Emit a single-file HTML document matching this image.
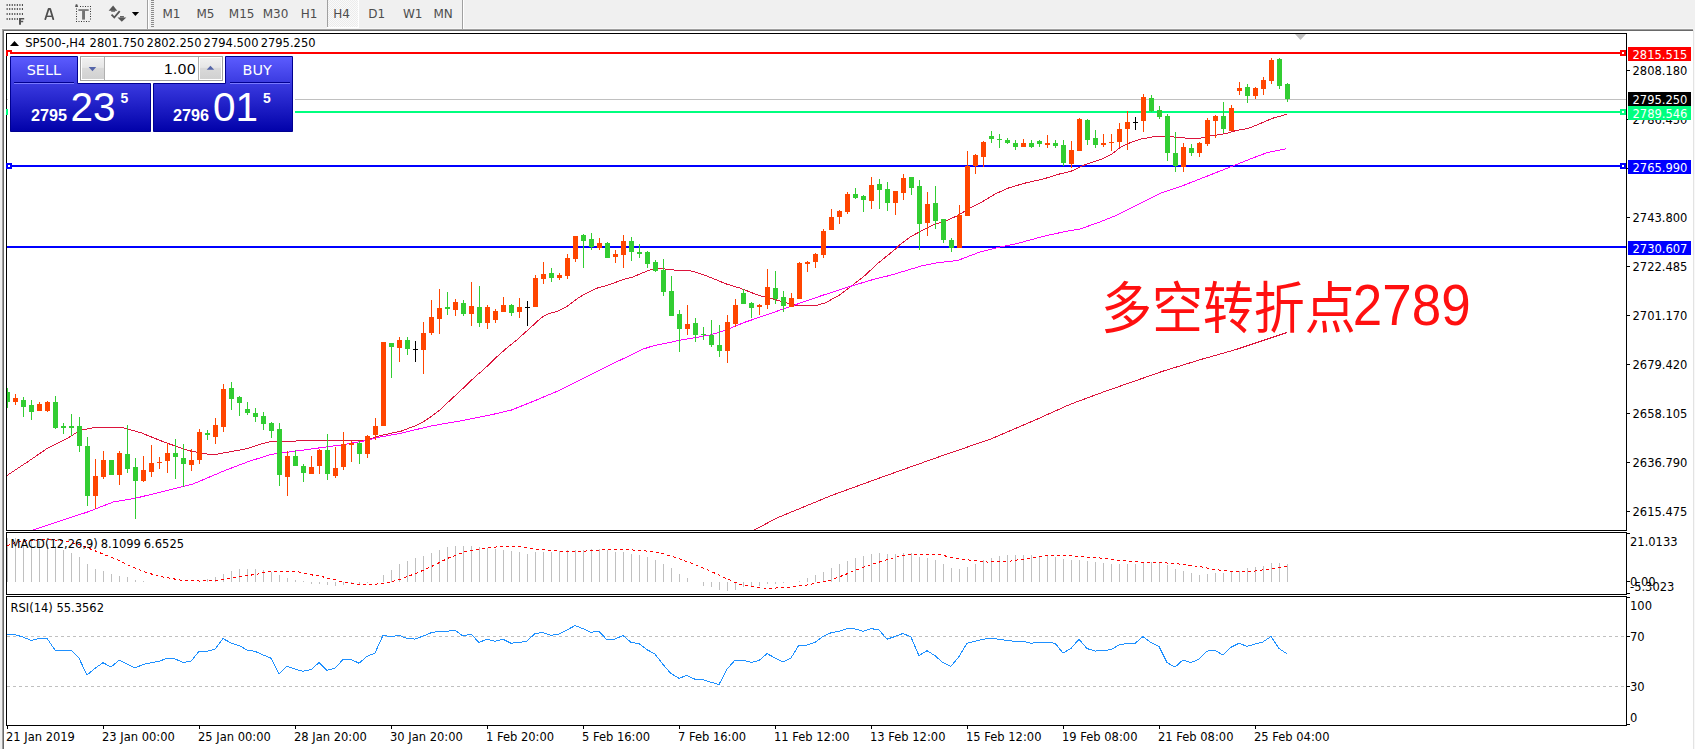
<!DOCTYPE html>
<html><head><meta charset="utf-8"><title>SP500 H4</title>
<style>
html,body{margin:0;padding:0;width:1695px;height:749px;overflow:hidden;background:#f0f0f0;}
#chart{position:absolute;left:0;top:0;}
.tb{position:absolute;font-family:"DejaVu Sans",sans-serif;font-size:11px;color:#4a4a4a;top:8px;}
</style></head><body>
<svg id="chart" width="1695" height="749" viewBox="0 0 1695 749">
<rect x="0" y="0" width="1695" height="749" fill="#f0f0f0" />
<rect x="2" y="29" width="1691" height="1" fill="#a0a0a0" />
<rect x="3" y="30" width="1690" height="1" fill="#696969" />
<rect x="2" y="29" width="1" height="720" fill="#a0a0a0" />
<rect x="3" y="30" width="1" height="719" fill="#696969" />
<rect x="4" y="31" width="1689" height="718" fill="#ffffff" />
<rect x="1693" y="30" width="1" height="719" fill="#e3e3e3" />
<rect x="1694" y="30" width="1" height="719" fill="#f8f8f8" />
<defs><clipPath id="cm"><rect x="7" y="34" width="1619" height="496"/></clipPath><clipPath id="cd"><rect x="7" y="533" width="1619" height="61"/></clipPath><clipPath id="cr"><rect x="7" y="597" width="1619" height="128"/></clipPath></defs>
<g clip-path="url(#cm)" shape-rendering="crispEdges">
<rect x="7" y="99" width="1619" height="1" fill="#c0c0c0" />
<rect x="7" y="52" width="1619" height="2" fill="#ff0000" />
<rect x="7" y="111" width="1619" height="2" fill="#00ff7f" />
<rect x="7" y="165" width="1619" height="2" fill="#0000ff" />
<rect x="7" y="246" width="1619" height="2" fill="#0000ff" />
</g>
<g clip-path="url(#cm)">
<polyline points="7.0,475.5 28.3,461.4 47.2,448.4 68.4,437.8 80.2,430.2 94.4,427.6 122.7,427.6 141.6,433.0 165.2,442.5 188.8,450.7 212.4,455.0 236.0,450.7 247.8,448.4 259.6,444.4 271.4,441.5 316.2,440.6 346.9,440.6 365.8,440.1 382.3,435.1 400.7,431.3 416.0,425.5 425.3,420.6 431.4,416.3 439.1,410.6 451.4,399.1 460.6,390.6 475.9,376.0 483.6,369.6 498.9,354.9 508.1,346.9 517.4,339.5 520.0,337.0 529.4,328.7 538.9,319.9 543.6,316.1 548.3,314.0 557.8,311.0 567.2,306.3 571.9,302.8 579.0,297.5 586.1,293.3 597.9,287.8 607.3,285.4 616.8,281.9 626.2,278.6 632.1,277.4 642.7,272.7 649.8,270.1 659.2,268.6 667.5,269.2 676.9,270.3 688.7,270.3 699.3,273.3 708.8,276.8 726.7,284.1 740.0,288.1 758.7,295.4 772.1,298.7 788.1,303.4 796.1,305.2 816.2,305.4 825.5,302.8 838.9,295.4 852.2,285.4 865.6,275.0 876.2,264.7 886.9,256.0 896.3,248.3 899.6,244.9 910.8,236.6 922.0,230.5 933.3,224.9 947.7,220.1 957.3,215.8 970.1,208.1 983.0,201.3 995.8,193.7 1008.6,188.0 1024.6,183.2 1043.8,178.9 1056.7,174.7 1071.1,171.2 1085.6,164.5 1102.4,158.9 1111.8,154.2 1121.1,146.7 1130.5,142.6 1141.7,138.9 1154.8,136.6 1167.9,136.4 1177.2,137.4 1188.4,138.3 1199.6,138.3 1210.8,135.9 1225.8,133.6 1237.0,130.3 1248.2,128.4 1259.4,123.9 1272.5,118.3 1286.5,114.4" fill="none" stroke="#dc143c" stroke-width="1" shape-rendering="crispEdges"/>
<polyline points="33.0,530.0 35.4,529.3 61.4,520.4 87.3,512.1 113.3,502.0 136.9,497.9 165.2,490.9 193.5,483.8 224.2,470.8 247.8,461.8 271.4,454.3 306.8,449.6 342.2,444.8 365.8,440.6 380.0,437.0 400.0,433.5 431.4,425.9 462.1,420.6 492.8,414.4 511.2,410.1 523.5,405.2 537.5,399.6 557.8,391.0 583.4,378.2 610.1,364.9 628.3,356.3 642.2,349.4 653.9,345.6 668.9,342.6 681.7,339.8 695.6,337.6 710.0,335.0 724.0,330.8 744.1,322.5 766.8,314.8 793.5,305.4 820.2,296.1 846.9,287.4 873.6,279.4 890.0,275.4 906.0,270.6 922.0,265.8 938.1,262.6 957.3,260.6 979.7,252.1 999.0,247.3 1018.2,243.3 1042.2,236.6 1066.3,231.3 1080.0,229.0 1098.7,222.4 1117.4,215.0 1136.1,205.6 1162.2,192.5 1180.9,186.4 1203.4,177.6 1229.5,167.3 1248.2,159.8 1266.9,152.7 1286.5,148.6" fill="none" stroke="#ff00ff" stroke-width="1" shape-rendering="crispEdges"/>
<polyline points="752.0,530.5 754.9,529.8 776.3,518.2 832.5,495.1 885.4,475.9 938.2,457.1 991.1,438.9 1037.3,419.1 1070.4,404.2 1103.4,392.0 1162.9,371.2 1202.5,359.0 1235.5,349.7 1286.7,332.6" fill="none" stroke="#dc143c" stroke-width="1" shape-rendering="crispEdges"/>
</g>
<g clip-path="url(#cm)" shape-rendering="crispEdges">
<rect x="7" y="388" width="1" height="20" fill="#32cd32" />
<rect x="5" y="392" width="5" height="10" fill="#32cd32" />
<rect x="15" y="394" width="1" height="11" fill="#ff4500" />
<rect x="13" y="398" width="5" height="4" fill="#ff4500" />
<rect x="23" y="397" width="1" height="20" fill="#32cd32" />
<rect x="21" y="400" width="5" height="7" fill="#32cd32" />
<rect x="31" y="400" width="1" height="20" fill="#32cd32" />
<rect x="29" y="405" width="5" height="7" fill="#32cd32" />
<rect x="39" y="402" width="1" height="9" fill="#ff4500" />
<rect x="37" y="404" width="5" height="7" fill="#ff4500" />
<rect x="47" y="401" width="1" height="11" fill="#ff4500" />
<rect x="45" y="402" width="5" height="9" fill="#ff4500" />
<rect x="55" y="396" width="1" height="33" fill="#32cd32" />
<rect x="53" y="402" width="5" height="26" fill="#32cd32" />
<rect x="63" y="423" width="1" height="11" fill="#32cd32" />
<rect x="61" y="426" width="5" height="2" fill="#32cd32" />
<rect x="71" y="414" width="1" height="22" fill="#32cd32" />
<rect x="69" y="426" width="5" height="2" fill="#32cd32" />
<rect x="79" y="417" width="1" height="35" fill="#32cd32" />
<rect x="77" y="426" width="5" height="20" fill="#32cd32" />
<rect x="87" y="437" width="1" height="69" fill="#32cd32" />
<rect x="85" y="446" width="5" height="50" fill="#32cd32" />
<rect x="95" y="459" width="1" height="50" fill="#ff4500" />
<rect x="93" y="476" width="5" height="20" fill="#ff4500" />
<rect x="103" y="451" width="1" height="28" fill="#ff4500" />
<rect x="101" y="460" width="5" height="17" fill="#ff4500" />
<rect x="111" y="460" width="1" height="15" fill="#32cd32" />
<rect x="109" y="460" width="5" height="15" fill="#32cd32" />
<rect x="119" y="451" width="1" height="34" fill="#ff4500" />
<rect x="117" y="453" width="5" height="22" fill="#ff4500" />
<rect x="127" y="425" width="1" height="48" fill="#32cd32" />
<rect x="125" y="454" width="5" height="15" fill="#32cd32" />
<rect x="135" y="458" width="1" height="61" fill="#32cd32" />
<rect x="133" y="467" width="5" height="14" fill="#32cd32" />
<rect x="143" y="456" width="1" height="26" fill="#ff4500" />
<rect x="141" y="470" width="5" height="11" fill="#ff4500" />
<rect x="151" y="445" width="1" height="32" fill="#ff4500" />
<rect x="149" y="463" width="5" height="9" fill="#ff4500" />
<rect x="159" y="457" width="1" height="12" fill="#ff4500" />
<rect x="157" y="462" width="5" height="1" fill="#ff4500" />
<rect x="167" y="443" width="1" height="30" fill="#ff4500" />
<rect x="165" y="453" width="5" height="8" fill="#ff4500" />
<rect x="175" y="439" width="1" height="40" fill="#32cd32" />
<rect x="173" y="453" width="5" height="4" fill="#32cd32" />
<rect x="183" y="444" width="1" height="43" fill="#32cd32" />
<rect x="181" y="458" width="5" height="6" fill="#32cd32" />
<rect x="191" y="449" width="1" height="22" fill="#ff4500" />
<rect x="189" y="460" width="5" height="5" fill="#ff4500" />
<rect x="199" y="429" width="1" height="35" fill="#ff4500" />
<rect x="197" y="432" width="5" height="28" fill="#ff4500" />
<rect x="207" y="430" width="1" height="10" fill="#32cd32" />
<rect x="205" y="433" width="5" height="2" fill="#32cd32" />
<rect x="215" y="418" width="1" height="26" fill="#ff4500" />
<rect x="213" y="425" width="5" height="12" fill="#ff4500" />
<rect x="223" y="384" width="1" height="48" fill="#ff4500" />
<rect x="221" y="389" width="5" height="38" fill="#ff4500" />
<rect x="231" y="382" width="1" height="28" fill="#32cd32" />
<rect x="229" y="388" width="5" height="11" fill="#32cd32" />
<rect x="239" y="396" width="1" height="20" fill="#32cd32" />
<rect x="237" y="397" width="5" height="6" fill="#32cd32" />
<rect x="247" y="402" width="1" height="13" fill="#32cd32" />
<rect x="245" y="409" width="5" height="4" fill="#32cd32" />
<rect x="255" y="408" width="1" height="14" fill="#32cd32" />
<rect x="253" y="413" width="5" height="4" fill="#32cd32" />
<rect x="263" y="412" width="1" height="18" fill="#32cd32" />
<rect x="261" y="416" width="5" height="8" fill="#32cd32" />
<rect x="271" y="422" width="1" height="16" fill="#32cd32" />
<rect x="269" y="423" width="5" height="8" fill="#32cd32" />
<rect x="279" y="423" width="1" height="63" fill="#32cd32" />
<rect x="277" y="429" width="5" height="46" fill="#32cd32" />
<rect x="287" y="451" width="1" height="45" fill="#ff4500" />
<rect x="285" y="456" width="5" height="21" fill="#ff4500" />
<rect x="295" y="450" width="1" height="16" fill="#32cd32" />
<rect x="293" y="456" width="5" height="10" fill="#32cd32" />
<rect x="303" y="464" width="1" height="18" fill="#32cd32" />
<rect x="301" y="466" width="5" height="7" fill="#32cd32" />
<rect x="311" y="456" width="1" height="18" fill="#ff4500" />
<rect x="309" y="467" width="5" height="7" fill="#ff4500" />
<rect x="319" y="449" width="1" height="25" fill="#ff4500" />
<rect x="317" y="450" width="5" height="16" fill="#ff4500" />
<rect x="327" y="434" width="1" height="46" fill="#32cd32" />
<rect x="325" y="450" width="5" height="24" fill="#32cd32" />
<rect x="335" y="447" width="1" height="31" fill="#ff4500" />
<rect x="333" y="468" width="5" height="8" fill="#ff4500" />
<rect x="343" y="432" width="1" height="38" fill="#ff4500" />
<rect x="341" y="444" width="5" height="23" fill="#ff4500" />
<rect x="351" y="441" width="1" height="21" fill="#ff4500" />
<rect x="349" y="443" width="5" height="2" fill="#ff4500" />
<rect x="359" y="441" width="1" height="23" fill="#32cd32" />
<rect x="357" y="443" width="5" height="11" fill="#32cd32" />
<rect x="367" y="435" width="1" height="23" fill="#ff4500" />
<rect x="365" y="436" width="5" height="18" fill="#ff4500" />
<rect x="375" y="418" width="1" height="22" fill="#ff4500" />
<rect x="373" y="426" width="5" height="9" fill="#ff4500" />
<rect x="383" y="342" width="1" height="84" fill="#ff4500" />
<rect x="381" y="342" width="5" height="84" fill="#ff4500" />
<rect x="391" y="343" width="1" height="35" fill="#32cd32" />
<rect x="389" y="343" width="5" height="4" fill="#32cd32" />
<rect x="399" y="337" width="1" height="25" fill="#ff4500" />
<rect x="397" y="340" width="5" height="8" fill="#ff4500" />
<rect x="407" y="337" width="1" height="18" fill="#32cd32" />
<rect x="405" y="340" width="5" height="9" fill="#32cd32" />
<rect x="415" y="341" width="1" height="21" fill="#000000" />
<rect x="413" y="349" width="5" height="1" fill="#000000" />
<rect x="423" y="322" width="1" height="52" fill="#ff4500" />
<rect x="421" y="333" width="5" height="17" fill="#ff4500" />
<rect x="431" y="300" width="1" height="35" fill="#ff4500" />
<rect x="429" y="317" width="5" height="16" fill="#ff4500" />
<rect x="439" y="289" width="1" height="45" fill="#ff4500" />
<rect x="437" y="308" width="5" height="11" fill="#ff4500" />
<rect x="447" y="292" width="1" height="23" fill="#32cd32" />
<rect x="445" y="307" width="5" height="2" fill="#32cd32" />
<rect x="455" y="299" width="1" height="17" fill="#ff4500" />
<rect x="453" y="302" width="5" height="8" fill="#ff4500" />
<rect x="463" y="300" width="1" height="16" fill="#32cd32" />
<rect x="461" y="303" width="5" height="11" fill="#32cd32" />
<rect x="471" y="282" width="1" height="44" fill="#ff4500" />
<rect x="469" y="306" width="5" height="8" fill="#ff4500" />
<rect x="479" y="286" width="1" height="41" fill="#32cd32" />
<rect x="477" y="307" width="5" height="16" fill="#32cd32" />
<rect x="487" y="305" width="1" height="24" fill="#ff4500" />
<rect x="485" y="307" width="5" height="16" fill="#ff4500" />
<rect x="495" y="309" width="1" height="14" fill="#ff4500" />
<rect x="493" y="311" width="5" height="9" fill="#ff4500" />
<rect x="503" y="297" width="1" height="15" fill="#ff4500" />
<rect x="501" y="305" width="5" height="7" fill="#ff4500" />
<rect x="511" y="304" width="1" height="12" fill="#32cd32" />
<rect x="509" y="305" width="5" height="8" fill="#32cd32" />
<rect x="519" y="298" width="1" height="20" fill="#ff4500" />
<rect x="517" y="307" width="5" height="5" fill="#ff4500" />
<rect x="527" y="301" width="1" height="25" fill="#000000" />
<rect x="525" y="307" width="5" height="1" fill="#000000" />
<rect x="535" y="275" width="1" height="32" fill="#ff4500" />
<rect x="533" y="278" width="5" height="29" fill="#ff4500" />
<rect x="543" y="262" width="1" height="22" fill="#ff4500" />
<rect x="541" y="274" width="5" height="5" fill="#ff4500" />
<rect x="551" y="268" width="1" height="14" fill="#32cd32" />
<rect x="549" y="273" width="5" height="5" fill="#32cd32" />
<rect x="559" y="273" width="1" height="7" fill="#ff4500" />
<rect x="557" y="275" width="5" height="3" fill="#ff4500" />
<rect x="567" y="254" width="1" height="25" fill="#ff4500" />
<rect x="565" y="258" width="5" height="18" fill="#ff4500" />
<rect x="575" y="236" width="1" height="26" fill="#ff4500" />
<rect x="573" y="236" width="5" height="23" fill="#ff4500" />
<rect x="583" y="234" width="1" height="34" fill="#32cd32" />
<rect x="581" y="235" width="5" height="6" fill="#32cd32" />
<rect x="591" y="233" width="1" height="17" fill="#32cd32" />
<rect x="589" y="239" width="5" height="8" fill="#32cd32" />
<rect x="599" y="238" width="1" height="12" fill="#ff4500" />
<rect x="597" y="243" width="5" height="5" fill="#ff4500" />
<rect x="607" y="242" width="1" height="16" fill="#32cd32" />
<rect x="605" y="243" width="5" height="15" fill="#32cd32" />
<rect x="615" y="250" width="1" height="13" fill="#ff4500" />
<rect x="613" y="254" width="5" height="3" fill="#ff4500" />
<rect x="623" y="235" width="1" height="33" fill="#ff4500" />
<rect x="621" y="241" width="5" height="14" fill="#ff4500" />
<rect x="631" y="237" width="1" height="24" fill="#32cd32" />
<rect x="629" y="241" width="5" height="11" fill="#32cd32" />
<rect x="639" y="244" width="1" height="14" fill="#32cd32" />
<rect x="637" y="252" width="5" height="2" fill="#32cd32" />
<rect x="647" y="251" width="1" height="17" fill="#32cd32" />
<rect x="645" y="252" width="5" height="12" fill="#32cd32" />
<rect x="655" y="260" width="1" height="12" fill="#32cd32" />
<rect x="653" y="262" width="5" height="9" fill="#32cd32" />
<rect x="663" y="259" width="1" height="37" fill="#32cd32" />
<rect x="661" y="270" width="5" height="22" fill="#32cd32" />
<rect x="671" y="276" width="1" height="40" fill="#32cd32" />
<rect x="669" y="291" width="5" height="25" fill="#32cd32" />
<rect x="679" y="310" width="1" height="42" fill="#32cd32" />
<rect x="677" y="314" width="5" height="15" fill="#32cd32" />
<rect x="687" y="305" width="1" height="30" fill="#ff4500" />
<rect x="685" y="324" width="5" height="5" fill="#ff4500" />
<rect x="695" y="318" width="1" height="24" fill="#32cd32" />
<rect x="693" y="323" width="5" height="12" fill="#32cd32" />
<rect x="703" y="327" width="1" height="13" fill="#32cd32" />
<rect x="701" y="334" width="5" height="1" fill="#32cd32" />
<rect x="711" y="320" width="1" height="27" fill="#32cd32" />
<rect x="709" y="335" width="5" height="10" fill="#32cd32" />
<rect x="719" y="325" width="1" height="32" fill="#32cd32" />
<rect x="717" y="345" width="5" height="6" fill="#32cd32" />
<rect x="727" y="315" width="1" height="48" fill="#ff4500" />
<rect x="725" y="322" width="5" height="29" fill="#ff4500" />
<rect x="735" y="299" width="1" height="28" fill="#ff4500" />
<rect x="733" y="305" width="5" height="19" fill="#ff4500" />
<rect x="743" y="289" width="1" height="15" fill="#32cd32" />
<rect x="741" y="293" width="5" height="11" fill="#32cd32" />
<rect x="751" y="302" width="1" height="16" fill="#32cd32" />
<rect x="749" y="303" width="5" height="5" fill="#32cd32" />
<rect x="759" y="304" width="1" height="11" fill="#ff4500" />
<rect x="757" y="305" width="5" height="2" fill="#ff4500" />
<rect x="767" y="269" width="1" height="40" fill="#ff4500" />
<rect x="765" y="287" width="5" height="18" fill="#ff4500" />
<rect x="775" y="271" width="1" height="33" fill="#32cd32" />
<rect x="773" y="288" width="5" height="11" fill="#32cd32" />
<rect x="783" y="291" width="1" height="21" fill="#32cd32" />
<rect x="781" y="297" width="5" height="9" fill="#32cd32" />
<rect x="791" y="293" width="1" height="14" fill="#ff4500" />
<rect x="789" y="298" width="5" height="9" fill="#ff4500" />
<rect x="799" y="262" width="1" height="37" fill="#ff4500" />
<rect x="797" y="263" width="5" height="36" fill="#ff4500" />
<rect x="807" y="261" width="1" height="11" fill="#ff4500" />
<rect x="805" y="262" width="5" height="2" fill="#ff4500" />
<rect x="815" y="253" width="1" height="15" fill="#ff4500" />
<rect x="813" y="254" width="5" height="8" fill="#ff4500" />
<rect x="823" y="229" width="1" height="29" fill="#ff4500" />
<rect x="821" y="231" width="5" height="24" fill="#ff4500" />
<rect x="831" y="209" width="1" height="21" fill="#ff4500" />
<rect x="829" y="217" width="5" height="13" fill="#ff4500" />
<rect x="839" y="210" width="1" height="14" fill="#ff4500" />
<rect x="837" y="211" width="5" height="6" fill="#ff4500" />
<rect x="847" y="192" width="1" height="22" fill="#ff4500" />
<rect x="845" y="194" width="5" height="18" fill="#ff4500" />
<rect x="855" y="188" width="1" height="11" fill="#32cd32" />
<rect x="853" y="194" width="5" height="4" fill="#32cd32" />
<rect x="863" y="195" width="1" height="17" fill="#32cd32" />
<rect x="861" y="196" width="5" height="4" fill="#32cd32" />
<rect x="871" y="177" width="1" height="32" fill="#ff4500" />
<rect x="869" y="185" width="5" height="16" fill="#ff4500" />
<rect x="879" y="179" width="1" height="30" fill="#32cd32" />
<rect x="877" y="184" width="5" height="6" fill="#32cd32" />
<rect x="887" y="182" width="1" height="29" fill="#32cd32" />
<rect x="885" y="189" width="5" height="14" fill="#32cd32" />
<rect x="895" y="191" width="1" height="24" fill="#ff4500" />
<rect x="893" y="191" width="5" height="12" fill="#ff4500" />
<rect x="903" y="174" width="1" height="26" fill="#ff4500" />
<rect x="901" y="178" width="5" height="15" fill="#ff4500" />
<rect x="911" y="177" width="1" height="18" fill="#32cd32" />
<rect x="909" y="177" width="5" height="11" fill="#32cd32" />
<rect x="919" y="180" width="1" height="70" fill="#32cd32" />
<rect x="917" y="186" width="5" height="38" fill="#32cd32" />
<rect x="927" y="192" width="1" height="44" fill="#ff4500" />
<rect x="925" y="204" width="5" height="19" fill="#ff4500" />
<rect x="935" y="186" width="1" height="43" fill="#32cd32" />
<rect x="933" y="203" width="5" height="18" fill="#32cd32" />
<rect x="943" y="219" width="1" height="24" fill="#32cd32" />
<rect x="941" y="219" width="5" height="21" fill="#32cd32" />
<rect x="951" y="238" width="1" height="14" fill="#32cd32" />
<rect x="949" y="240" width="5" height="8" fill="#32cd32" />
<rect x="959" y="205" width="1" height="43" fill="#ff4500" />
<rect x="957" y="215" width="5" height="33" fill="#ff4500" />
<rect x="967" y="151" width="1" height="65" fill="#ff4500" />
<rect x="965" y="166" width="5" height="50" fill="#ff4500" />
<rect x="975" y="154" width="1" height="20" fill="#ff4500" />
<rect x="973" y="155" width="5" height="11" fill="#ff4500" />
<rect x="983" y="141" width="1" height="26" fill="#ff4500" />
<rect x="981" y="142" width="5" height="15" fill="#ff4500" />
<rect x="991" y="131" width="1" height="12" fill="#32cd32" />
<rect x="989" y="136" width="5" height="3" fill="#32cd32" />
<rect x="999" y="134" width="1" height="14" fill="#32cd32" />
<rect x="997" y="139" width="5" height="1" fill="#32cd32" />
<rect x="1007" y="138" width="1" height="6" fill="#32cd32" />
<rect x="1005" y="140" width="5" height="3" fill="#32cd32" />
<rect x="1015" y="140" width="1" height="10" fill="#32cd32" />
<rect x="1013" y="143" width="5" height="4" fill="#32cd32" />
<rect x="1023" y="139" width="1" height="8" fill="#ff4500" />
<rect x="1021" y="143" width="5" height="4" fill="#ff4500" />
<rect x="1031" y="140" width="1" height="8" fill="#32cd32" />
<rect x="1029" y="143" width="5" height="4" fill="#32cd32" />
<rect x="1039" y="140" width="1" height="7" fill="#32cd32" />
<rect x="1037" y="141" width="5" height="3" fill="#32cd32" />
<rect x="1047" y="135" width="1" height="13" fill="#ff4500" />
<rect x="1045" y="143" width="5" height="2" fill="#ff4500" />
<rect x="1055" y="140" width="1" height="8" fill="#32cd32" />
<rect x="1053" y="143" width="5" height="3" fill="#32cd32" />
<rect x="1063" y="140" width="1" height="26" fill="#32cd32" />
<rect x="1061" y="145" width="5" height="18" fill="#32cd32" />
<rect x="1071" y="141" width="1" height="27" fill="#ff4500" />
<rect x="1069" y="150" width="5" height="14" fill="#ff4500" />
<rect x="1079" y="118" width="1" height="33" fill="#ff4500" />
<rect x="1077" y="119" width="5" height="32" fill="#ff4500" />
<rect x="1087" y="119" width="1" height="26" fill="#32cd32" />
<rect x="1085" y="120" width="5" height="20" fill="#32cd32" />
<rect x="1095" y="130" width="1" height="18" fill="#32cd32" />
<rect x="1093" y="138" width="5" height="7" fill="#32cd32" />
<rect x="1103" y="134" width="1" height="13" fill="#ff4500" />
<rect x="1101" y="143" width="5" height="2" fill="#ff4500" />
<rect x="1111" y="134" width="1" height="17" fill="#ff4500" />
<rect x="1109" y="142" width="5" height="1" fill="#ff4500" />
<rect x="1119" y="123" width="1" height="24" fill="#ff4500" />
<rect x="1117" y="129" width="5" height="13" fill="#ff4500" />
<rect x="1127" y="111" width="1" height="39" fill="#ff4500" />
<rect x="1125" y="122" width="5" height="7" fill="#ff4500" />
<rect x="1135" y="117" width="1" height="13" fill="#000000" />
<rect x="1133" y="122" width="5" height="1" fill="#000000" />
<rect x="1143" y="94" width="1" height="38" fill="#ff4500" />
<rect x="1141" y="97" width="5" height="24" fill="#ff4500" />
<rect x="1151" y="95" width="1" height="17" fill="#32cd32" />
<rect x="1149" y="98" width="5" height="13" fill="#32cd32" />
<rect x="1159" y="106" width="1" height="13" fill="#32cd32" />
<rect x="1157" y="110" width="5" height="7" fill="#32cd32" />
<rect x="1167" y="114" width="1" height="47" fill="#32cd32" />
<rect x="1165" y="116" width="5" height="37" fill="#32cd32" />
<rect x="1175" y="132" width="1" height="40" fill="#32cd32" />
<rect x="1173" y="153" width="5" height="13" fill="#32cd32" />
<rect x="1183" y="143" width="1" height="29" fill="#ff4500" />
<rect x="1181" y="147" width="5" height="20" fill="#ff4500" />
<rect x="1191" y="144" width="1" height="12" fill="#32cd32" />
<rect x="1189" y="148" width="5" height="5" fill="#32cd32" />
<rect x="1199" y="142" width="1" height="15" fill="#ff4500" />
<rect x="1197" y="143" width="5" height="10" fill="#ff4500" />
<rect x="1207" y="118" width="1" height="28" fill="#ff4500" />
<rect x="1205" y="120" width="5" height="24" fill="#ff4500" />
<rect x="1215" y="115" width="1" height="23" fill="#ff4500" />
<rect x="1213" y="116" width="5" height="5" fill="#ff4500" />
<rect x="1223" y="102" width="1" height="31" fill="#32cd32" />
<rect x="1221" y="116" width="5" height="13" fill="#32cd32" />
<rect x="1231" y="105" width="1" height="26" fill="#ff4500" />
<rect x="1229" y="108" width="5" height="23" fill="#ff4500" />
<rect x="1239" y="82" width="1" height="13" fill="#ff4500" />
<rect x="1237" y="88" width="5" height="3" fill="#ff4500" />
<rect x="1247" y="84" width="1" height="19" fill="#32cd32" />
<rect x="1245" y="87" width="5" height="9" fill="#32cd32" />
<rect x="1255" y="87" width="1" height="12" fill="#ff4500" />
<rect x="1253" y="88" width="5" height="8" fill="#ff4500" />
<rect x="1263" y="77" width="1" height="18" fill="#ff4500" />
<rect x="1261" y="80" width="5" height="9" fill="#ff4500" />
<rect x="1271" y="58" width="1" height="26" fill="#ff4500" />
<rect x="1269" y="60" width="5" height="21" fill="#ff4500" />
<rect x="1279" y="58" width="1" height="31" fill="#32cd32" />
<rect x="1277" y="59" width="5" height="27" fill="#32cd32" />
<rect x="1287" y="83" width="1" height="19" fill="#32cd32" />
<rect x="1285" y="84" width="5" height="15" fill="#32cd32" />
</g>
<path d="M1295,34 L1306,34 L1300.5,40 Z" fill="#c0c0c0"/>
<g clip-path="url(#cd)" shape-rendering="crispEdges">
<rect x="7" y="538" width="1" height="44" fill="#c0c0c0" />
<rect x="15" y="538" width="1" height="44" fill="#c0c0c0" />
<rect x="23" y="539" width="1" height="43" fill="#c0c0c0" />
<rect x="31" y="541" width="1" height="41" fill="#c0c0c0" />
<rect x="39" y="541" width="1" height="41" fill="#c0c0c0" />
<rect x="47" y="544" width="1" height="38" fill="#c0c0c0" />
<rect x="55" y="546" width="1" height="36" fill="#c0c0c0" />
<rect x="63" y="550" width="1" height="32" fill="#c0c0c0" />
<rect x="71" y="553" width="1" height="29" fill="#c0c0c0" />
<rect x="79" y="557" width="1" height="25" fill="#c0c0c0" />
<rect x="87" y="564" width="1" height="18" fill="#c0c0c0" />
<rect x="95" y="569" width="1" height="13" fill="#c0c0c0" />
<rect x="103" y="571" width="1" height="11" fill="#c0c0c0" />
<rect x="111" y="574" width="1" height="8" fill="#c0c0c0" />
<rect x="119" y="576" width="1" height="6" fill="#c0c0c0" />
<rect x="127" y="577" width="1" height="5" fill="#c0c0c0" />
<rect x="135" y="580" width="1" height="2" fill="#c0c0c0" />
<rect x="143" y="581" width="1" height="1" fill="#c0c0c0" />
<rect x="207" y="579" width="1" height="3" fill="#c0c0c0" />
<rect x="215" y="577" width="1" height="5" fill="#c0c0c0" />
<rect x="223" y="574" width="1" height="8" fill="#c0c0c0" />
<rect x="231" y="571" width="1" height="11" fill="#c0c0c0" />
<rect x="239" y="569" width="1" height="13" fill="#c0c0c0" />
<rect x="247" y="569" width="1" height="13" fill="#c0c0c0" />
<rect x="255" y="569" width="1" height="13" fill="#c0c0c0" />
<rect x="263" y="570" width="1" height="12" fill="#c0c0c0" />
<rect x="271" y="572" width="1" height="10" fill="#c0c0c0" />
<rect x="279" y="575" width="1" height="7" fill="#c0c0c0" />
<rect x="287" y="578" width="1" height="4" fill="#c0c0c0" />
<rect x="295" y="580" width="1" height="2" fill="#c0c0c0" />
<rect x="303" y="581" width="1" height="1" fill="#c0c0c0" />
<rect x="311" y="582" width="1" height="2" fill="#c0c0c0" />
<rect x="319" y="582" width="1" height="2" fill="#c0c0c0" />
<rect x="327" y="582" width="1" height="3" fill="#c0c0c0" />
<rect x="335" y="582" width="1" height="4" fill="#c0c0c0" />
<rect x="343" y="582" width="1" height="3" fill="#c0c0c0" />
<rect x="351" y="582" width="1" height="2" fill="#c0c0c0" />
<rect x="359" y="582" width="1" height="2" fill="#c0c0c0" />
<rect x="367" y="582" width="1" height="1" fill="#c0c0c0" />
<rect x="383" y="575" width="1" height="7" fill="#c0c0c0" />
<rect x="391" y="570" width="1" height="12" fill="#c0c0c0" />
<rect x="399" y="564" width="1" height="18" fill="#c0c0c0" />
<rect x="407" y="561" width="1" height="21" fill="#c0c0c0" />
<rect x="415" y="558" width="1" height="24" fill="#c0c0c0" />
<rect x="423" y="556" width="1" height="26" fill="#c0c0c0" />
<rect x="431" y="553" width="1" height="29" fill="#c0c0c0" />
<rect x="439" y="550" width="1" height="32" fill="#c0c0c0" />
<rect x="447" y="547" width="1" height="35" fill="#c0c0c0" />
<rect x="455" y="546" width="1" height="36" fill="#c0c0c0" />
<rect x="463" y="546" width="1" height="36" fill="#c0c0c0" />
<rect x="471" y="546" width="1" height="36" fill="#c0c0c0" />
<rect x="479" y="547" width="1" height="35" fill="#c0c0c0" />
<rect x="487" y="548" width="1" height="34" fill="#c0c0c0" />
<rect x="495" y="549" width="1" height="33" fill="#c0c0c0" />
<rect x="503" y="550" width="1" height="32" fill="#c0c0c0" />
<rect x="511" y="551" width="1" height="31" fill="#c0c0c0" />
<rect x="519" y="552" width="1" height="30" fill="#c0c0c0" />
<rect x="527" y="554" width="1" height="28" fill="#c0c0c0" />
<rect x="535" y="552" width="1" height="30" fill="#c0c0c0" />
<rect x="543" y="552" width="1" height="30" fill="#c0c0c0" />
<rect x="551" y="552" width="1" height="30" fill="#c0c0c0" />
<rect x="559" y="551" width="1" height="31" fill="#c0c0c0" />
<rect x="567" y="550" width="1" height="32" fill="#c0c0c0" />
<rect x="575" y="550" width="1" height="32" fill="#c0c0c0" />
<rect x="583" y="550" width="1" height="32" fill="#c0c0c0" />
<rect x="591" y="549" width="1" height="33" fill="#c0c0c0" />
<rect x="599" y="549" width="1" height="33" fill="#c0c0c0" />
<rect x="607" y="550" width="1" height="32" fill="#c0c0c0" />
<rect x="615" y="552" width="1" height="30" fill="#c0c0c0" />
<rect x="623" y="552" width="1" height="30" fill="#c0c0c0" />
<rect x="631" y="554" width="1" height="28" fill="#c0c0c0" />
<rect x="639" y="555" width="1" height="27" fill="#c0c0c0" />
<rect x="647" y="557" width="1" height="25" fill="#c0c0c0" />
<rect x="655" y="560" width="1" height="22" fill="#c0c0c0" />
<rect x="663" y="564" width="1" height="18" fill="#c0c0c0" />
<rect x="671" y="568" width="1" height="14" fill="#c0c0c0" />
<rect x="679" y="574" width="1" height="8" fill="#c0c0c0" />
<rect x="687" y="578" width="1" height="4" fill="#c0c0c0" />
<rect x="703" y="582" width="1" height="4" fill="#c0c0c0" />
<rect x="711" y="582" width="1" height="5" fill="#c0c0c0" />
<rect x="719" y="582" width="1" height="8" fill="#c0c0c0" />
<rect x="727" y="582" width="1" height="9" fill="#c0c0c0" />
<rect x="735" y="582" width="1" height="8" fill="#c0c0c0" />
<rect x="743" y="582" width="1" height="5" fill="#c0c0c0" />
<rect x="751" y="582" width="1" height="4" fill="#c0c0c0" />
<rect x="759" y="582" width="1" height="4" fill="#c0c0c0" />
<rect x="767" y="582" width="1" height="2" fill="#c0c0c0" />
<rect x="775" y="582" width="1" height="2" fill="#c0c0c0" />
<rect x="783" y="582" width="1" height="1" fill="#c0c0c0" />
<rect x="799" y="581" width="1" height="1" fill="#c0c0c0" />
<rect x="807" y="578" width="1" height="4" fill="#c0c0c0" />
<rect x="815" y="575" width="1" height="7" fill="#c0c0c0" />
<rect x="823" y="572" width="1" height="10" fill="#c0c0c0" />
<rect x="831" y="568" width="1" height="14" fill="#c0c0c0" />
<rect x="839" y="564" width="1" height="18" fill="#c0c0c0" />
<rect x="847" y="561" width="1" height="21" fill="#c0c0c0" />
<rect x="855" y="558" width="1" height="24" fill="#c0c0c0" />
<rect x="863" y="556" width="1" height="26" fill="#c0c0c0" />
<rect x="871" y="554" width="1" height="28" fill="#c0c0c0" />
<rect x="879" y="553" width="1" height="29" fill="#c0c0c0" />
<rect x="887" y="554" width="1" height="28" fill="#c0c0c0" />
<rect x="895" y="554" width="1" height="28" fill="#c0c0c0" />
<rect x="903" y="553" width="1" height="29" fill="#c0c0c0" />
<rect x="911" y="553" width="1" height="29" fill="#c0c0c0" />
<rect x="919" y="557" width="1" height="25" fill="#c0c0c0" />
<rect x="927" y="558" width="1" height="24" fill="#c0c0c0" />
<rect x="935" y="560" width="1" height="22" fill="#c0c0c0" />
<rect x="943" y="564" width="1" height="18" fill="#c0c0c0" />
<rect x="951" y="568" width="1" height="14" fill="#c0c0c0" />
<rect x="959" y="569" width="1" height="13" fill="#c0c0c0" />
<rect x="967" y="567" width="1" height="15" fill="#c0c0c0" />
<rect x="975" y="564" width="1" height="18" fill="#c0c0c0" />
<rect x="983" y="560" width="1" height="22" fill="#c0c0c0" />
<rect x="991" y="558" width="1" height="24" fill="#c0c0c0" />
<rect x="999" y="556" width="1" height="26" fill="#c0c0c0" />
<rect x="1007" y="555" width="1" height="27" fill="#c0c0c0" />
<rect x="1015" y="555" width="1" height="27" fill="#c0c0c0" />
<rect x="1023" y="555" width="1" height="27" fill="#c0c0c0" />
<rect x="1031" y="555" width="1" height="27" fill="#c0c0c0" />
<rect x="1039" y="556" width="1" height="26" fill="#c0c0c0" />
<rect x="1047" y="555" width="1" height="27" fill="#c0c0c0" />
<rect x="1055" y="557" width="1" height="25" fill="#c0c0c0" />
<rect x="1063" y="559" width="1" height="23" fill="#c0c0c0" />
<rect x="1071" y="560" width="1" height="22" fill="#c0c0c0" />
<rect x="1079" y="560" width="1" height="22" fill="#c0c0c0" />
<rect x="1087" y="561" width="1" height="21" fill="#c0c0c0" />
<rect x="1095" y="562" width="1" height="20" fill="#c0c0c0" />
<rect x="1103" y="563" width="1" height="19" fill="#c0c0c0" />
<rect x="1111" y="564" width="1" height="18" fill="#c0c0c0" />
<rect x="1119" y="564" width="1" height="18" fill="#c0c0c0" />
<rect x="1127" y="564" width="1" height="18" fill="#c0c0c0" />
<rect x="1135" y="564" width="1" height="18" fill="#c0c0c0" />
<rect x="1143" y="562" width="1" height="20" fill="#c0c0c0" />
<rect x="1151" y="562" width="1" height="20" fill="#c0c0c0" />
<rect x="1159" y="562" width="1" height="20" fill="#c0c0c0" />
<rect x="1167" y="565" width="1" height="17" fill="#c0c0c0" />
<rect x="1175" y="569" width="1" height="13" fill="#c0c0c0" />
<rect x="1183" y="571" width="1" height="11" fill="#c0c0c0" />
<rect x="1191" y="573" width="1" height="9" fill="#c0c0c0" />
<rect x="1199" y="575" width="1" height="7" fill="#c0c0c0" />
<rect x="1207" y="574" width="1" height="8" fill="#c0c0c0" />
<rect x="1215" y="573" width="1" height="9" fill="#c0c0c0" />
<rect x="1223" y="573" width="1" height="9" fill="#c0c0c0" />
<rect x="1231" y="572" width="1" height="10" fill="#c0c0c0" />
<rect x="1239" y="571" width="1" height="11" fill="#c0c0c0" />
<rect x="1247" y="568" width="1" height="14" fill="#c0c0c0" />
<rect x="1255" y="567" width="1" height="15" fill="#c0c0c0" />
<rect x="1263" y="566" width="1" height="16" fill="#c0c0c0" />
<rect x="1271" y="563" width="1" height="19" fill="#c0c0c0" />
<rect x="1279" y="563" width="1" height="19" fill="#c0c0c0" />
<rect x="1287" y="564" width="1" height="18" fill="#c0c0c0" />
</g>
<g clip-path="url(#cd)">
<polyline points="7.0,545.8 14.9,542.7 31.0,540.2 49.6,539.6 64.4,540.8 79.3,544.5 91.7,549.5 104.1,554.4 116.5,559.4 127.6,565.0 133.5,567.4 140.6,570.3 146.5,572.4 152.4,574.3 158.6,576.2 164.8,577.4 170.7,578.3 176.6,579.4 182.5,580.4 194.3,580.4 200.5,581.2 206.7,580.4 218.5,580.0 224.4,579.4 231.0,578.4 240.9,576.1 249.6,575.3 258.2,574.0 266.9,571.5 276.8,571.2 296.6,571.2 304.1,573.4 314.0,575.3 321.4,576.4 328.9,578.6 336.3,580.1 343.7,582.3 353.6,583.6 361.1,584.4 375.9,584.2 383.4,583.3 392.0,581.7 400.7,579.2 410.0,575.5 416.3,573.3 432.6,566.0 448.8,557.9 465.1,551.6 481.4,548.9 500.4,546.5 522.1,547.0 541.1,549.7 562.8,551.4 584.5,551.1 606.2,549.5 628.0,549.7 644.2,550.8 660.5,553.0 676.8,557.9 693.1,563.9 709.4,570.6 725.6,578.2 739.2,584.2 752.8,586.9 766.3,588.3 785.3,587.7 807.0,585.0 828.8,580.7 845.0,574.7 852.7,571.2 871.2,564.5 887.2,559.7 903.1,555.2 919.0,554.2 940.3,554.7 950.9,557.4 972.1,560.5 988.0,562.1 1009.3,561.3 1030.5,557.9 1046.4,555.2 1062.4,555.2 1083.6,556.8 1104.8,558.4 1120.8,560.5 1142.0,562.1 1163.2,562.7 1184.5,564.5 1200.4,566.7 1216.3,569.8 1232.3,571.2 1253.5,571.2 1269.4,569.0 1287.5,566.4" fill="none" stroke="#ff0000" stroke-width="1" stroke-dasharray="3,3" shape-rendering="crispEdges"/>
</g>
<g shape-rendering="crispEdges">
<line x1="7" y1="636.5" x2="1626" y2="636.5" stroke="#c0c0c0" stroke-width="1" stroke-dasharray="3,3"/>
<line x1="7" y1="686.5" x2="1626" y2="686.5" stroke="#c0c0c0" stroke-width="1" stroke-dasharray="3,3"/>
</g>
<g clip-path="url(#cr)">
<polyline points="7.0,634.6 15.0,634.6 23.0,637.1 31.0,640.4 39.0,638.4 47.0,638.4 55.0,650.0 63.0,650.0 71.0,650.0 79.0,658.2 87.0,675.1 95.0,668.3 103.0,662.7 111.0,667.0 119.0,660.2 127.0,664.0 135.0,668.0 143.0,664.5 151.0,662.7 159.0,661.4 167.0,658.2 175.0,658.9 183.0,662.5 191.0,661.2 199.0,651.3 207.0,651.3 215.0,649.3 223.0,638.6 231.0,643.0 239.0,645.5 247.0,650.0 255.0,651.3 263.0,654.9 271.0,658.2 279.0,674.1 287.0,666.3 295.0,669.1 303.0,671.3 311.0,669.6 319.0,662.7 327.0,670.3 335.0,668.3 343.0,659.4 351.0,659.4 359.0,663.2 367.0,656.4 375.0,653.1 383.0,635.3 391.0,636.6 399.0,635.3 407.0,638.4 415.0,639.1 423.0,636.1 431.0,632.8 439.0,631.3 447.0,631.3 455.0,630.2 463.0,636.0 471.0,634.1 479.0,642.4 487.0,639.3 495.0,641.2 503.0,639.3 511.0,643.2 519.0,642.4 527.0,641.2 535.0,633.4 543.0,632.6 551.0,635.4 559.0,634.1 567.0,630.0 575.0,625.6 583.0,628.7 591.0,632.3 599.0,631.3 607.0,639.9 615.0,639.1 623.0,635.4 631.0,642.4 639.0,643.7 647.0,649.7 655.0,654.1 663.0,664.5 671.0,673.6 679.0,678.3 687.0,675.4 695.0,679.3 703.0,679.6 711.0,682.2 719.0,684.5 727.0,669.2 735.0,660.1 743.0,660.1 751.0,662.4 759.0,660.6 767.0,653.6 775.0,658.0 783.0,661.9 791.0,658.0 799.0,645.0 807.0,645.0 815.0,642.4 823.0,636.5 831.0,632.8 839.0,631.3 847.0,628.7 855.0,629.0 863.0,631.2 871.0,628.6 879.0,629.9 887.0,639.2 895.0,636.5 903.0,633.4 911.0,637.1 919.0,655.7 927.0,650.6 935.0,655.7 943.0,662.6 951.0,666.3 959.0,656.5 967.0,643.2 975.0,641.3 983.0,639.2 991.0,638.4 999.0,639.2 1007.0,640.5 1015.0,641.3 1023.0,641.3 1031.0,643.2 1039.0,642.4 1047.0,642.4 1055.0,643.2 1063.0,653.0 1071.0,648.5 1079.0,639.2 1087.0,648.5 1095.0,651.1 1103.0,650.4 1111.0,649.8 1119.0,645.0 1127.0,643.4 1135.0,643.4 1143.0,636.5 1151.0,642.7 1159.0,646.6 1167.0,662.6 1175.0,667.1 1183.0,659.9 1191.0,662.6 1199.0,659.1 1207.0,651.1 1215.0,650.4 1223.0,655.1 1231.0,647.2 1239.0,643.2 1247.0,646.4 1255.0,644.0 1263.0,641.9 1271.0,636.5 1279.0,648.5 1287.0,653.8" fill="none" stroke="#1e90ff" stroke-width="1" shape-rendering="crispEdges"/>
</g>
<g fill="none" stroke="#000" stroke-width="1" shape-rendering="crispEdges">
<rect x="6.5" y="33.5" width="1620" height="497"/>
<rect x="6.5" y="532.5" width="1620" height="62"/>
<rect x="6.5" y="596.5" width="1620" height="129"/>
</g>
<path d="M6,50h6v6h-6z M8,52v2h2v-2z" fill="#ff0000" fill-rule="evenodd" shape-rendering="crispEdges"/>
<rect x="8" y="52" width="2" height="2" fill="#fff" shape-rendering="crispEdges"/>
<path d="M1620,50h6v6h-6z M1622,52v2h2v-2z" fill="#ff0000" fill-rule="evenodd" shape-rendering="crispEdges"/>
<rect x="1622" y="52" width="2" height="2" fill="#fff" shape-rendering="crispEdges"/>
<path d="M6,109h6v6h-6z M8,111v2h2v-2z" fill="#00ff7f" fill-rule="evenodd" shape-rendering="crispEdges"/>
<rect x="8" y="111" width="2" height="2" fill="#fff" shape-rendering="crispEdges"/>
<path d="M1620,109h6v6h-6z M1622,111v2h2v-2z" fill="#00ff7f" fill-rule="evenodd" shape-rendering="crispEdges"/>
<rect x="1622" y="111" width="2" height="2" fill="#fff" shape-rendering="crispEdges"/>
<path d="M6,163h6v6h-6z M8,165v2h2v-2z" fill="#0000ff" fill-rule="evenodd" shape-rendering="crispEdges"/>
<rect x="8" y="165" width="2" height="2" fill="#fff" shape-rendering="crispEdges"/>
<path d="M1620,163h6v6h-6z M1622,165v2h2v-2z" fill="#0000ff" fill-rule="evenodd" shape-rendering="crispEdges"/>
<rect x="1622" y="165" width="2" height="2" fill="#fff" shape-rendering="crispEdges"/>
<g font-family="DejaVu Sans, sans-serif" font-size="11.5" fill="#000">
<rect x="1627" y="70" width="3" height="1" fill="#000" shape-rendering="crispEdges"/>
<text x="1632.5" y="74.5">2808.180</text>
<rect x="1627" y="119" width="3" height="1" fill="#000" shape-rendering="crispEdges"/>
<text x="1632.5" y="123.5">2786.450</text>
<rect x="1627" y="168" width="3" height="1" fill="#000" shape-rendering="crispEdges"/>
<text x="1632.5" y="172.5">2765.120</text>
<rect x="1627" y="217" width="3" height="1" fill="#000" shape-rendering="crispEdges"/>
<text x="1632.5" y="221.5">2743.800</text>
<rect x="1627" y="266" width="3" height="1" fill="#000" shape-rendering="crispEdges"/>
<text x="1632.5" y="270.5">2722.485</text>
<rect x="1627" y="315" width="3" height="1" fill="#000" shape-rendering="crispEdges"/>
<text x="1632.5" y="319.5">2701.170</text>
<rect x="1627" y="364" width="3" height="1" fill="#000" shape-rendering="crispEdges"/>
<text x="1632.5" y="368.5">2679.420</text>
<rect x="1627" y="413" width="3" height="1" fill="#000" shape-rendering="crispEdges"/>
<text x="1632.5" y="417.5">2658.105</text>
<rect x="1627" y="462" width="3" height="1" fill="#000" shape-rendering="crispEdges"/>
<text x="1632.5" y="466.5">2636.790</text>
<rect x="1627" y="511" width="3" height="1" fill="#000" shape-rendering="crispEdges"/>
<text x="1632.5" y="515.5">2615.475</text>
<rect x="1627" y="533" width="3" height="1" fill="#000" shape-rendering="crispEdges"/>
<rect x="1627" y="581" width="3" height="1" fill="#000" shape-rendering="crispEdges"/>
<rect x="1627" y="593" width="3" height="1" fill="#000" shape-rendering="crispEdges"/>
<rect x="1627" y="597" width="3" height="1" fill="#000" shape-rendering="crispEdges"/>
<rect x="1627" y="636" width="3" height="1" fill="#000" shape-rendering="crispEdges"/>
<rect x="1627" y="686" width="3" height="1" fill="#000" shape-rendering="crispEdges"/>
<rect x="1627" y="724" width="3" height="1" fill="#000" shape-rendering="crispEdges"/>
<text x="1630" y="546">21.0133</text>
<text x="1630" y="585.5">0.00</text>
<text x="1630" y="590.7">-5.3023</text>
<text x="1630" y="610">100</text>
<text x="1630" y="641">70</text>
<text x="1630" y="691">30</text>
<text x="1630" y="722">0</text>
<rect x="7" y="726" width="1" height="3" fill="#000" shape-rendering="crispEdges"/>
<text x="6" y="741">21 Jan 2019</text>
<rect x="103" y="726" width="1" height="3" fill="#000" shape-rendering="crispEdges"/>
<text x="102" y="741">23 Jan 00:00</text>
<rect x="199" y="726" width="1" height="3" fill="#000" shape-rendering="crispEdges"/>
<text x="198" y="741">25 Jan 00:00</text>
<rect x="295" y="726" width="1" height="3" fill="#000" shape-rendering="crispEdges"/>
<text x="294" y="741">28 Jan 20:00</text>
<rect x="391" y="726" width="1" height="3" fill="#000" shape-rendering="crispEdges"/>
<text x="390" y="741">30 Jan 20:00</text>
<rect x="487" y="726" width="1" height="3" fill="#000" shape-rendering="crispEdges"/>
<text x="486" y="741">1 Feb 20:00</text>
<rect x="583" y="726" width="1" height="3" fill="#000" shape-rendering="crispEdges"/>
<text x="582" y="741">5 Feb 16:00</text>
<rect x="679" y="726" width="1" height="3" fill="#000" shape-rendering="crispEdges"/>
<text x="678" y="741">7 Feb 16:00</text>
<rect x="775" y="726" width="1" height="3" fill="#000" shape-rendering="crispEdges"/>
<text x="774" y="741">11 Feb 12:00</text>
<rect x="871" y="726" width="1" height="3" fill="#000" shape-rendering="crispEdges"/>
<text x="870" y="741">13 Feb 12:00</text>
<rect x="967" y="726" width="1" height="3" fill="#000" shape-rendering="crispEdges"/>
<text x="966" y="741">15 Feb 12:00</text>
<rect x="1063" y="726" width="1" height="3" fill="#000" shape-rendering="crispEdges"/>
<text x="1062" y="741">19 Feb 08:00</text>
<rect x="1159" y="726" width="1" height="3" fill="#000" shape-rendering="crispEdges"/>
<text x="1158" y="741">21 Feb 08:00</text>
<rect x="1255" y="726" width="1" height="3" fill="#000" shape-rendering="crispEdges"/>
<text x="1254" y="741">25 Feb 04:00</text>
</g>
<rect x="1628" y="47" width="63" height="14" fill="#ff0000" />
<text x="1632.5" y="58.8" font-family="DejaVu Sans, sans-serif" font-size="11.5" fill="#fff">2815.515</text>
<rect x="1628" y="92" width="63" height="14" fill="#000000" />
<text x="1632.5" y="103.8" font-family="DejaVu Sans, sans-serif" font-size="11.5" fill="#fff">2795.250</text>
<rect x="1628" y="106" width="63" height="14" fill="#00ff7f" />
<text x="1632.5" y="117.8" font-family="DejaVu Sans, sans-serif" font-size="11.5" fill="#fff">2789.546</text>
<rect x="1628" y="160" width="63" height="14" fill="#0000ff" />
<text x="1632.5" y="171.8" font-family="DejaVu Sans, sans-serif" font-size="11.5" fill="#fff">2765.990</text>
<rect x="1628" y="241" width="63" height="14" fill="#0000ff" />
<text x="1632.5" y="252.8" font-family="DejaVu Sans, sans-serif" font-size="11.5" fill="#fff">2730.607</text>
<text x="10.5" y="548" font-family="DejaVu Sans, sans-serif" font-size="11.5" fill="#000" word-spacing="-0.8">MACD(12,26,9) 8.1099 6.6525</text>
<text x="10.5" y="611.5" font-family="DejaVu Sans, sans-serif" font-size="11.5" fill="#000">RSI(14) 55.3562</text>
<path d="M10,46 L19,46 L14.5,41 Z" fill="#000"/>
<text x="25.3" y="47" font-family="DejaVu Sans, sans-serif" font-size="11.5" fill="#000" word-spacing="-1.5" xml:space="preserve">SP500-,H4  2801.750 2802.250 2794.500 2795.250</text>
<text transform="matrix(1.02,0,0,1.11,1100.9,328.2)" font-family="Noto Sans CJK SC, sans-serif" font-size="50" fill="#ff1010">多空转折点</text>
<text transform="matrix(1.06,0,0,1.157,1352.8,325)" font-family="Liberation Sans, sans-serif" font-size="50" fill="#ff1010">2789</text>
<rect x="6.60" y="4" width="1.1" height="2" fill="#505050"/>
<rect x="9.15" y="4" width="1.1" height="2" fill="#505050"/>
<rect x="11.70" y="4" width="1.1" height="2" fill="#505050"/>
<rect x="14.25" y="4" width="1.1" height="2" fill="#505050"/>
<rect x="16.80" y="4" width="1.1" height="2" fill="#505050"/>
<rect x="19.35" y="4" width="1.1" height="2" fill="#505050"/>
<rect x="21.90" y="4" width="1.1" height="2" fill="#505050"/>
<rect x="6.60" y="8" width="1.1" height="2" fill="#505050"/>
<rect x="9.15" y="8" width="1.1" height="2" fill="#505050"/>
<rect x="11.70" y="8" width="1.1" height="2" fill="#505050"/>
<rect x="14.25" y="8" width="1.1" height="2" fill="#505050"/>
<rect x="16.80" y="8" width="1.1" height="2" fill="#505050"/>
<rect x="19.35" y="8" width="1.1" height="2" fill="#505050"/>
<rect x="21.90" y="8" width="1.1" height="2" fill="#505050"/>
<rect x="6.60" y="13" width="1.1" height="2" fill="#505050"/>
<rect x="9.15" y="13" width="1.1" height="2" fill="#505050"/>
<rect x="11.70" y="13" width="1.1" height="2" fill="#505050"/>
<rect x="14.25" y="13" width="1.1" height="2" fill="#505050"/>
<rect x="16.80" y="13" width="1.1" height="2" fill="#505050"/>
<rect x="19.35" y="13" width="1.1" height="2" fill="#505050"/>
<rect x="21.90" y="13" width="1.1" height="2" fill="#505050"/>
<rect x="6.60" y="18" width="1.1" height="2" fill="#505050"/>
<rect x="9.15" y="18" width="1.1" height="2" fill="#505050"/>
<rect x="11.70" y="18" width="1.1" height="2" fill="#505050"/>
<rect x="14.25" y="18" width="1.1" height="2" fill="#505050"/>
<rect x="16.80" y="18" width="1.1" height="2" fill="#505050"/>
<path d="M19,18 H24.2 V19.6 H21 V20.8 H23.2 V22.2 H21 V24.8 H19 Z" fill="#555"/>
<path d="M45.3,19.2 L48.6,8.9 L50.2,8.9 L53.3,19.2" fill="none" stroke="#4f4f4f" stroke-width="1.8" stroke-linejoin="round" stroke-linecap="round"/>
<path d="M46.6,16.3 H51.9" fill="none" stroke="#4f4f4f" stroke-width="1.4"/>
<rect x="80" y="6" width="1" height="1" fill="#333"/>
<rect x="82.5" y="6" width="1" height="1" fill="#333"/>
<rect x="85" y="6" width="1" height="1" fill="#333"/>
<rect x="87.5" y="6" width="1" height="1" fill="#333"/>
<rect x="90" y="6" width="1" height="1" fill="#333"/>
<rect x="76" y="21" width="1" height="1" fill="#333"/>
<rect x="78.5" y="21" width="1" height="1" fill="#333"/>
<rect x="81" y="21" width="1" height="1" fill="#333"/>
<rect x="83.5" y="21" width="1" height="1" fill="#333"/>
<rect x="86" y="21" width="1" height="1" fill="#333"/>
<rect x="88.5" y="21" width="1" height="1" fill="#333"/>
<rect x="76" y="8.5" width="1" height="1" fill="#333"/>
<rect x="90" y="8.5" width="1" height="1" fill="#333"/>
<rect x="76" y="11" width="1" height="1" fill="#333"/>
<rect x="90" y="11" width="1" height="1" fill="#333"/>
<rect x="76" y="13.5" width="1" height="1" fill="#333"/>
<rect x="90" y="13.5" width="1" height="1" fill="#333"/>
<rect x="76" y="16" width="1" height="1" fill="#333"/>
<rect x="90" y="16" width="1" height="1" fill="#333"/>
<rect x="76" y="18.5" width="1" height="1" fill="#333"/>
<rect x="90" y="18.5" width="1" height="1" fill="#333"/>
<path d="M75,7 L75.8,4.3 L77.2,4.3 L78.2,7 Z" fill="#555"/>
<rect x="78.4" y="9.2" width="10.3" height="1.7" fill="#737373"/>
<rect x="82.1" y="10.5" width="2.9" height="9.1" fill="#737373"/>
<path d="M108.6,10.7 L113.1,5.5 L117.3,10.7 Z" fill="#555"/>
<rect x="111.2" y="10.5" width="3.9" height="1.2" fill="#555"/>
<polyline points="111.5,14.6 114.3,17.5 119.7,11.2" fill="none" stroke="#555" stroke-width="1.8"/>
<rect x="120" y="16.1" width="3.9" height="1.4" fill="#555"/>
<path d="M117.5,17.4 L126.3,17.4 L121.8,21.7 Z" fill="#555"/>
<path d="M131.9,12.1 L139.1,12.1 L135.4,15.9 Z" fill="#000"/>
<rect x="0" y="28" width="1693" height="1" fill="#f7f7f7"/>
<rect x="147" y="0" width="1" height="29" fill="#a0a0a0"/>
<rect x="148" y="0" width="1" height="29" fill="#ffffff"/>
<rect x="151" y="0" width="3" height="1" fill="#8a8a8a"/>
<rect x="151" y="2" width="3" height="1" fill="#8a8a8a"/>
<rect x="151" y="4" width="3" height="1" fill="#8a8a8a"/>
<rect x="151" y="6" width="3" height="1" fill="#8a8a8a"/>
<rect x="151" y="8" width="3" height="1" fill="#8a8a8a"/>
<rect x="151" y="10" width="3" height="1" fill="#8a8a8a"/>
<rect x="151" y="12" width="3" height="1" fill="#8a8a8a"/>
<rect x="151" y="14" width="3" height="1" fill="#8a8a8a"/>
<rect x="151" y="16" width="3" height="1" fill="#8a8a8a"/>
<rect x="151" y="18" width="3" height="1" fill="#8a8a8a"/>
<rect x="151" y="20" width="3" height="1" fill="#8a8a8a"/>
<rect x="151" y="22" width="3" height="1" fill="#8a8a8a"/>
<rect x="151" y="24" width="3" height="1" fill="#8a8a8a"/>
<rect x="151" y="26" width="3" height="1" fill="#8a8a8a"/>
<defs><pattern id="chk" width="2" height="2" patternUnits="userSpaceOnUse"><rect width="2" height="2" fill="#fafafa"/><rect width="1" height="1" fill="#ececec"/><rect x="1" y="1" width="1" height="1" fill="#ececec"/></pattern></defs>
<rect x="327" y="0" width="32" height="28" fill="url(#chk)"/>
<rect x="327" y="0" width="1" height="27" fill="#a0a0a0"/>
<rect x="358" y="0" width="1" height="28" fill="#ffffff"/>
<rect x="327" y="27" width="32" height="1" fill="#ffffff"/>
<rect x="462" y="0" width="1" height="29" fill="#a0a0a0"/>
<rect x="463" y="0" width="1" height="29" fill="#ffffff"/>
<text x="162.4" y="18.3" font-family="DejaVu Sans, sans-serif" font-size="12" fill="#4d4d4d">M1</text>
<text x="196.5" y="18.3" font-family="DejaVu Sans, sans-serif" font-size="12" fill="#4d4d4d">M5</text>
<text x="228.8" y="18.3" font-family="DejaVu Sans, sans-serif" font-size="12" fill="#4d4d4d">M15</text>
<text x="262.7" y="18.3" font-family="DejaVu Sans, sans-serif" font-size="12" fill="#4d4d4d">M30</text>
<text x="300.7" y="18.3" font-family="DejaVu Sans, sans-serif" font-size="12" fill="#4d4d4d">H1</text>
<text x="333.3" y="18.3" font-family="DejaVu Sans, sans-serif" font-size="12" fill="#4d4d4d">H4</text>
<text x="368.2" y="18.3" font-family="DejaVu Sans, sans-serif" font-size="12" fill="#4d4d4d">D1</text>
<text x="402.9" y="18.3" font-family="DejaVu Sans, sans-serif" font-size="12" fill="#4d4d4d">W1</text>
<text x="433.5" y="18.3" font-family="DejaVu Sans, sans-serif" font-size="12" fill="#4d4d4d">MN</text>
<defs><linearGradient id="gsell" x1="0" y1="56" x2="0" y2="132" gradientUnits="userSpaceOnUse"><stop offset="0" stop-color="#5c5cff"/><stop offset="0.35" stop-color="#3a3ae0"/><stop offset="1" stop-color="#0000a8"/></linearGradient><linearGradient id="gbtn" x1="0" y1="57" x2="0" y2="80" gradientUnits="userSpaceOnUse"><stop offset="0" stop-color="#f2f2f2"/><stop offset="0.45" stop-color="#e6e6e6"/><stop offset="0.5" stop-color="#d9d9d9"/><stop offset="1" stop-color="#d0d0d0"/></linearGradient></defs>
<rect x="8" y="54" width="287" height="80" fill="#ffffff"/>
<path d="M10,56 H77 V83 H150 V131 H10 Z" fill="url(#gsell)" stroke="#000090" stroke-width="1" transform="translate(0.5,0.5)"/>
<rect x="14" y="82" width="60" height="1" fill="#000090"/>
<rect x="14" y="83" width="60" height="1" fill="#7a7aff"/>
<path d="M225,56 H292 V131 H153 V83 H225 Z" fill="url(#gsell)" stroke="#000090" stroke-width="1" transform="translate(0.5,0.5)"/>
<rect x="230" y="82" width="60" height="1" fill="#000090"/>
<rect x="230" y="83" width="60" height="1" fill="#7a7aff"/>
<rect x="80.5" y="56.5" width="142" height="24" fill="#ffffff" stroke="#a0a0a0"/>
<rect x="82" y="58" width="22" height="21" fill="url(#gbtn)"/>
<rect x="104" y="57" width="1" height="23" fill="#b0b0b0"/>
<rect x="198" y="57" width="1" height="23" fill="#b0b0b0"/>
<rect x="200" y="58" width="21" height="21" fill="url(#gbtn)"/>
<path d="M88.7,67 L96.2,67 L92.45,71.2 Z" fill="#5565a8"/>
<path d="M206.7,69.8 L214.2,69.8 L210.45,65.7 Z" fill="#5565a8"/>
<text x="196.1" y="74" text-anchor="end" font-family="Liberation Sans, sans-serif" font-size="15.3" letter-spacing="0.6" fill="#000">1.00</text>
<text x="26.7" y="74.6" font-family="DejaVu Sans, sans-serif" font-size="14.4" fill="#fff">SELL</text>
<text x="242.6" y="74.6" font-family="DejaVu Sans, sans-serif" font-size="14.4" fill="#fff">BUY</text>
<text x="31" y="121" font-family="Liberation Sans, sans-serif" font-weight="bold" font-size="16.2" fill="#fff">2795</text>
<text x="70.5" y="121" font-family="Liberation Sans, sans-serif" font-size="40.5" fill="#fff">23</text>
<text x="120.5" y="102.5" font-family="Liberation Sans, sans-serif" font-weight="bold" font-size="14" fill="#fff">5</text>
<text x="173" y="121" font-family="Liberation Sans, sans-serif" font-weight="bold" font-size="16.2" fill="#fff">2796</text>
<text x="213" y="121" font-family="Liberation Sans, sans-serif" font-size="40.5" fill="#fff">01</text>
<text x="263" y="102.5" font-family="Liberation Sans, sans-serif" font-weight="bold" font-size="14" fill="#fff">5</text>
</svg>
</body></html>
